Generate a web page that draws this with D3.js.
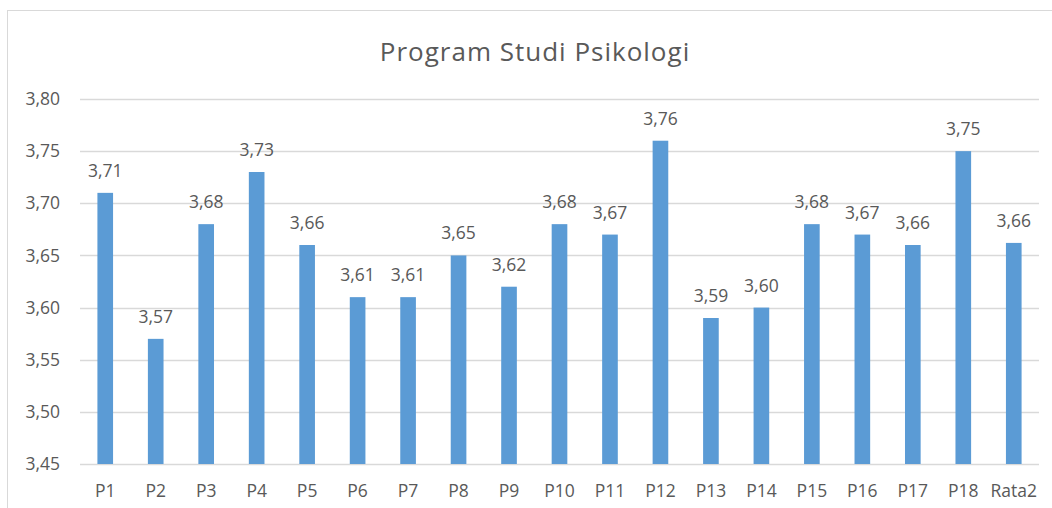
<!DOCTYPE html>
<html>
<head>
<meta charset="utf-8">
<script src="https://cdn.jsdelivr.net/npm/d3@7"></script>
<style>
  body { margin: 0; background: #fff; }
  text { font-family: "Open Sans", "Noto Sans", sans-serif; fill: #595959; }
</style>
</head>
<body>
<script>
// data
var categories = ["P1","P2","P3","P4","P5","P6","P7","P8","P9","P10",
                  "P11","P12","P13","P14","P15","P16","P17","P18","Rata2"];
var values = [3.71, 3.57, 3.68, 3.73, 3.66, 3.61, 3.61, 3.65, 3.62, 3.68,
              3.67, 3.76, 3.59, 3.60, 3.68, 3.67, 3.66, 3.75, 3.662];
var yTicks = [3.45, 3.50, 3.55, 3.60, 3.65, 3.70, 3.75, 3.80];

var rows = categories.map(function(c, i){ return {name: c, value: values[i]}; });
var fmt = function(v){ return d3.format(".2f")(v).replace(".", ","); };

var svg = d3.select("body")
            .append("svg")
            .attr("width", 1052)
            .attr("height", 508);

// chart frame
svg.append("rect")
   .attr("x", 7.5).attr("y", 10.5)
   .attr("width", 1060).attr("height", 520)
   .attr("fill", "none")
   .attr("stroke", "#d9d9d9");

var x = d3.scaleBand()
          .domain(categories)
          .range([80, 1039])
          .paddingInner(0.69)
          .paddingOuter(0.345);

var y = d3.scaleLinear()
          .domain([3.45, 3.80])
          .range([464, 99]);

// gridlines
svg.append("g")
   .selectAll("line")
   .data(yTicks)
   .enter()
   .append("line")
   .attr("x1", 80).attr("x2", 1039)
   .attr("y1", function(d){ return Math.round(y(d)) + 0.5; })
   .attr("y2", function(d){ return Math.round(y(d)) + 0.5; })
   .attr("stroke", "#d9d9d9")
   .attr("stroke-width", 1.5);

// y axis labels
var yAxis = svg.append("g")
   .attr("transform", "translate(80,0)")
   .call(d3.axisLeft(y).tickValues(yTicks).tickSize(0).tickPadding(20).tickFormat(fmt));
yAxis.select(".domain").remove();
yAxis.selectAll("text").style("font-size", "17.5px").attr("fill", "#595959");

// x axis labels
var xAxis = svg.append("g")
   .attr("transform", "translate(0,464)")
   .call(d3.axisBottom(x).tickSize(0).tickPadding(21));
xAxis.select(".domain").remove();
xAxis.selectAll("text").style("font-size", "17.5px").attr("fill", "#595959");

// bars
svg.append("g")
   .selectAll("rect")
   .data(rows)
   .enter()
   .append("rect")
   .attr("x", function(d){ return x(d.name); })
   .attr("y", function(d){ return y(d.value); })
   .attr("width", x.bandwidth())
   .attr("height", function(d){ return y(3.45) - y(d.value); })
   .attr("fill", "#5b9bd5");

// value labels
svg.append("g")
   .selectAll("text")
   .data(rows)
   .enter()
   .append("text")
   .attr("x", function(d){ return x(d.name) + x.bandwidth() / 2; })
   .attr("y", function(d){ return y(d.value) - 16; })
   .attr("text-anchor", "middle")
   .style("font-size", "17.5px")
   .text(function(d){ return fmt(d.value); });

// title
svg.append("text")
   .attr("x", 535)
   .attr("y", 61)
   .attr("text-anchor", "middle")
   .style("font-size", "26px")
   .style("letter-spacing", "1px")
   .text("Program Studi Psikologi");
</script>
</body>
</html>
